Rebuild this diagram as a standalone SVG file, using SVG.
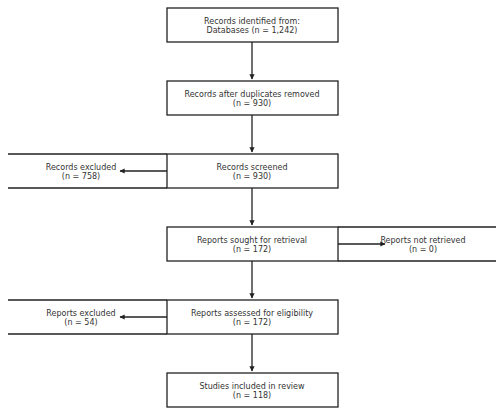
<svg xmlns="http://www.w3.org/2000/svg" width="504" height="415" viewBox="0 0 504 415">
<style>
.box{fill:#fff;stroke:#222;stroke-width:1.3}
.side{fill:none;stroke:#222;stroke-width:1.3}
text{font-family:"DejaVu Sans",sans-serif;font-size:8px;fill:#333;text-anchor:middle}
.c{stroke:#222;stroke-width:1.3;fill:none;marker-end:url(#ah)}
</style>
<defs>
<marker id="ah" viewBox="0 0 10 10" refX="9" refY="5" markerWidth="4.5" markerHeight="4" orient="auto" markerUnits="strokeWidth">
<path d="M0,0 L10,5 L0,10 z" fill="#222"/>
</marker>
</defs>
<rect width="504" height="415" fill="#fff"/>
<g id="excluded1">
<path class="side" d="M8,154 H167 M8,188 H167"/>
<text x="81" y="169.5">Records excluded</text><text x="81" y="179">(n = 758)</text>
</g>
<g id="notretrieved">
<path class="side" d="M338,227 H496 M338,261 H496"/>
<text x="423" y="242.5">Reports not retrieved</text><text x="423" y="252">(n = 0)</text>
</g>
<g id="excluded2">
<path class="side" d="M8,300 H167 M8,334 H167"/>
<text x="81" y="315.5">Reports excluded</text><text x="81" y="325">(n = 54)</text>
</g>
<g id="identified">
<rect class="box" x="167" y="8" width="171" height="34"/>
<text x="252" y="23.5">Records identified from:</text><text x="252" y="33">Databases (n = 1,242)</text>
</g>
<g id="dedup">
<rect class="box" x="167" y="81" width="171" height="34"/>
<text x="252" y="96.5">Records after duplicates removed</text><text x="252" y="106">(n = 930)</text>
</g>
<g id="screened">
<rect class="box" x="167" y="154" width="171" height="34"/>
<text x="252" y="169.5">Records screened</text><text x="252" y="179">(n = 930)</text>
</g>
<g id="sought">
<rect class="box" x="167" y="227" width="171" height="34"/>
<text x="252" y="242.5">Reports sought for retrieval</text><text x="252" y="252">(n = 172)</text>
</g>
<g id="assessed">
<rect class="box" x="167" y="300" width="171" height="34"/>
<text x="252" y="315.5">Reports assessed for eligibility</text><text x="252" y="325">(n = 172)</text>
</g>
<g id="included">
<rect class="box" x="167" y="373" width="171" height="34"/>
<text x="252" y="388.5">Studies included in review</text><text x="252" y="398">(n = 118)</text>
</g>
<g id="connectors">
<path class="c" d="M252,42 V79"/>
<path class="c" d="M252,115 V152"/>
<path class="c" d="M252,188 V225"/>
<path class="c" d="M252,261 V298"/>
<path class="c" d="M252,334 V371"/>
<path class="c" d="M167,171 H120"/>
<path class="c" d="M338,244 H385"/>
<path class="c" d="M167,317 H120"/>
</g>
</svg>
